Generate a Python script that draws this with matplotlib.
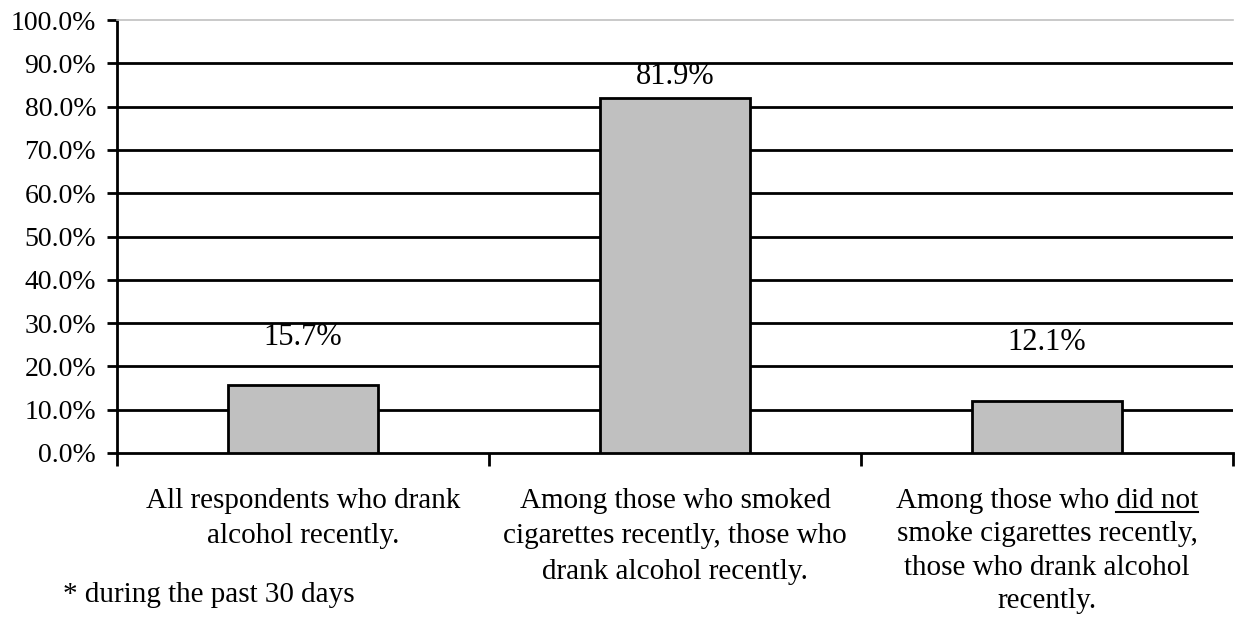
import matplotlib
matplotlib.use('Agg')
import numpy as np
from matplotlib import pyplot as plt
from matplotlib.ticker import FuncFormatter
from matplotlib.lines import Line2D

plt.rcParams['font.family'] = ['Liberation Serif', 'DejaVu Serif']

# data
categories = [
    'All respondents who drank\nalcohol recently.',
    'Among those who smoked\ncigarettes recently, those who\ndrank alcohol recently.',
    'Among those who did not\nsmoke cigarettes recently,\nthose who drank alcohol\nrecently.',
]
values = [15.7, 81.9, 12.1]
value_labels = ['15.7%', '81.9%', '12.1%']
yticks = np.arange(0, 101, 10)
underlined = (2, 'Among those who ', 'did not')

# label offsets above bar tops (pixels) and line spacing of category labels
label_offsets = [48, 22, 58]
cat_spacing = [1.48, 1.48, 1.37]

fig = plt.figure(figsize=(12.38, 6.18), dpi=100)
ax = fig.add_axes([117 / 1238, 1 - 453 / 618, (1233 - 117) / 1238, (453 - 20) / 618])

x = np.arange(len(categories))
ax.bar(x, values, width=0.403, color='#c0c0c0', edgecolor='black', linewidth=2, zorder=3)

# value labels
for xi, v, lab, off in zip(x, values, value_labels, label_offsets):
    ax.annotate(lab, (xi, v), xytext=(0, off * 0.72), textcoords='offset points',
                ha='center', va='center', fontsize=22, zorder=4)

ax.set_xlim(-0.5, len(categories) - 0.5)
ax.set_ylim(0, 100)
ax.set_yticks(yticks)
ax.yaxis.set_major_formatter(FuncFormatter(lambda v, p: '%.1f%%' % v))
ax.tick_params(axis='y', labelsize=20, length=7, width=2, direction='out', pad=8)

# gridlines (black) except the top one
for t in yticks[1:-1]:
    ax.axhline(t, color='black', linewidth=2, zorder=1)

# category labels at centres, ticks at boundaries
ax.set_xticks(x)
ax.set_xticklabels(categories, fontsize=21)
ax.tick_params(axis='x', which='major', length=0, pad=25)
ax.set_xticks(np.arange(-0.5, len(categories), 1.0), minor=True)
ax.tick_params(axis='x', which='minor', length=9, width=2, direction='out')

ax.spines['left'].set_linewidth(2)
ax.spines['bottom'].set_linewidth(2)
ax.spines['right'].set_visible(False)
ax.spines['top'].set_color('#c0c0c0')
ax.spines['top'].set_linewidth(1.2)

fig.text(63 / 1238, 1 - 602 / 618, '* during the past 30 days', fontsize=21,
         ha='left', va='baseline')

fig.canvas.draw()
for tl, ls in zip(ax.get_xticklabels(), cat_spacing):
    tl.set_linespacing(ls)

# underline "did not" in the third label
fig.canvas.draw()
r = fig.canvas.get_renderer()
idx, pre, word = underlined
tl = ax.get_xticklabels()[idx]
prop = tl.get_fontproperties()
first = tl.get_text().split('\n')[0]
bb = tl.get_window_extent(r)
cx = (bb.x0 + bb.x1) / 2
w_first, h_first, d_first = r.get_text_width_height_descent(first, prop, ismath=False)
w_pre, _, _ = r.get_text_width_height_descent(pre.rstrip() + ' ', prop, ismath=False)
w_word, _, _ = r.get_text_width_height_descent(word, prop, ismath=False)
_, h_lp, d_lp = r.get_text_width_height_descent('lp', prop, ismath=False)
base = bb.y1 - max(h_first - d_first, h_lp - d_lp)
x0 = cx - w_first / 2 + w_pre
uy = base - 4
fig.add_artist(Line2D([x0 / 1238, (x0 + w_word) / 1238], [uy / 618, uy / 618],
                      color='black', linewidth=1.5, transform=fig.transFigure))

fig.savefig('out.png', dpi=100)
